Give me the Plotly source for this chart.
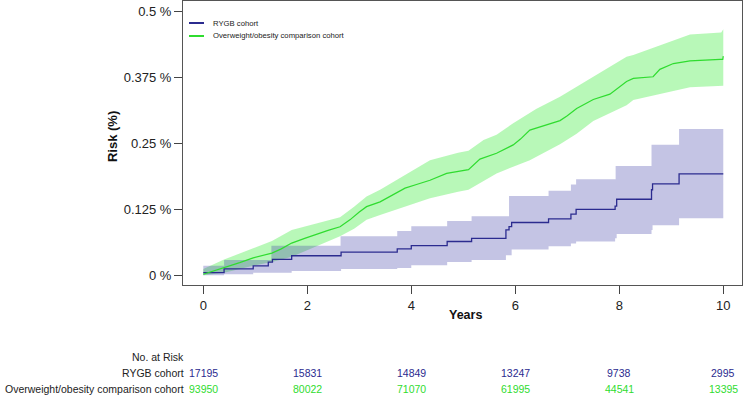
import plotly.graph_objects as go

# ---------------- data ----------------
rygb_t = [0, 0.40, 0.96, 1.25, 1.33, 1.70, 2.65, 3.73, 4.00, 4.69, 5.16, 5.82, 5.88, 5.93,
          6.64, 7.07, 7.17, 7.92, 7.95, 8.62, 8.64, 9.15, 10.00]
rygb_risk = [0.005, 0.012, 0.018, 0.025, 0.030, 0.037, 0.044, 0.050, 0.056, 0.064, 0.070, 0.086,
             0.092, 0.100, 0.107, 0.116, 0.125, 0.131, 0.144, 0.162, 0.173, 0.192, 0.192]

rygb_up_t = [0, 0.40, 1.31, 2.64, 3.73, 4.00, 4.69, 5.16, 5.88, 6.64, 7.07, 7.17, 7.93, 8.62, 9.15, 10.00]
rygb_up = [0.018, 0.029, 0.056, 0.074, 0.084, 0.093, 0.103, 0.112, 0.150, 0.160, 0.172, 0.182,
           0.207, 0.247, 0.277, 0.277]

rygb_lo_t = [0, 0.40, 0.96, 1.70, 2.65, 3.73, 4.00, 4.69, 5.16, 5.82, 5.93, 6.64, 7.07, 7.17,
             7.92, 7.95, 8.62, 8.64, 9.15, 10.00]
rygb_lo = [0.000, 0.002, 0.005, 0.008, 0.012, 0.014, 0.019, 0.025, 0.029, 0.038, 0.049, 0.055,
           0.060, 0.064, 0.070, 0.078, 0.086, 0.095, 0.108, 0.108]

ow_t = [0.00, 0.20, 0.40, 0.70, 0.96, 1.15, 1.32, 1.50, 1.70, 1.95, 2.18, 2.40, 2.63, 2.82, 3.00,
        3.14, 3.40, 3.65, 3.88, 4.10, 4.36, 4.68, 4.90, 5.10, 5.32, 5.64, 5.96, 6.10, 6.28, 6.55,
        6.86, 7.00, 7.18, 7.50, 7.82, 8.14, 8.27, 8.65, 8.78, 9.04, 9.36, 9.94, 9.99, 10.00]
ow_risk = [0.002, 0.008, 0.015, 0.024, 0.033, 0.038, 0.042, 0.050, 0.061, 0.070, 0.078, 0.085,
           0.092, 0.105, 0.120, 0.130, 0.139, 0.152, 0.165, 0.172, 0.180, 0.193, 0.197, 0.200,
           0.220, 0.231, 0.247, 0.258, 0.275, 0.284, 0.293, 0.302, 0.316, 0.333, 0.343, 0.367,
           0.373, 0.376, 0.390, 0.401, 0.406, 0.409, 0.409, 0.415]

ow_up_t = [0.00, 0.40, 0.96, 1.32, 1.70, 2.18, 2.63, 2.90, 3.14, 3.40, 3.88, 4.36, 4.90, 5.10,
           5.39, 5.64, 5.96, 6.40, 6.86, 7.50, 8.14, 8.27, 8.71, 9.36, 9.96, 10.00]
ow_up = [0.012, 0.030, 0.051, 0.065, 0.086, 0.098, 0.110, 0.130, 0.149, 0.162, 0.190, 0.218,
         0.232, 0.236, 0.256, 0.266, 0.288, 0.315, 0.338, 0.376, 0.414, 0.417, 0.433, 0.456,
         0.460, 0.466]

ow_lo_t = [0.00, 0.40, 0.96, 1.32, 1.70, 2.18, 2.63, 2.90, 3.14, 3.40, 3.88, 4.36, 4.90, 5.10,
           5.64, 6.28, 6.86, 7.18, 7.50, 8.14, 8.27, 8.71, 9.36, 10.00]
ow_lo = [0.000, 0.005, 0.018, 0.025, 0.035, 0.055, 0.074, 0.088, 0.105, 0.114, 0.130, 0.146,
         0.158, 0.162, 0.193, 0.218, 0.248, 0.268, 0.292, 0.322, 0.332, 0.342, 0.356, 0.359]

y_tick_vals = [0, 0.125, 0.25, 0.375, 0.5]
y_tick_text = ["0 %", "0.125 %", "0.25 %", "0.375 %", "0.5 %"]
x_tick_vals = [0, 2, 4, 6, 8, 10]

risk_times = [0, 2, 4, 6, 8, 10]
rygb_at_risk = [17195, 15831, 14849, 13247, 9738, 2995]
ow_at_risk = [93950, 80022, 71070, 61995, 44541, 13395]

series_names = ["RYGB cohort", "Overweight/obesity comparison cohort"]

# ---------------- style ----------------
BLUE = "#2b2b8f"
GREEN = "#2fdc2f"
BLUE_FILL = "rgba(60,60,165,0.30)"
GREEN_FILL = "rgba(40,235,40,0.33)"
FONT = "Arial, Liberation Sans, sans-serif"

fig = go.Figure()

def band(t_up, up, t_lo, lo, fill, shape):
    fig.add_trace(go.Scatter(x=t_up, y=up, mode="lines", line=dict(width=0, shape=shape),
                             showlegend=False, hoverinfo="skip"))
    fig.add_trace(go.Scatter(x=t_lo, y=lo, mode="lines", line=dict(width=0, shape=shape),
                             fill="tonexty", fillcolor=fill, showlegend=False, hoverinfo="skip"))

band(ow_up_t, ow_up, ow_lo_t, ow_lo, GREEN_FILL, "linear")
band(rygb_up_t, rygb_up, rygb_lo_t, rygb_lo, BLUE_FILL, "hv")

fig.add_trace(go.Scatter(x=rygb_t, y=rygb_risk, mode="lines", name=series_names[0],
                         line=dict(color=BLUE, width=1.3, shape="hv"), showlegend=False))
fig.add_trace(go.Scatter(x=ow_t, y=ow_risk, mode="lines", name=series_names[1],
                         line=dict(color=GREEN, width=1.2, shape="linear"), showlegend=False))

# manual legend
shapes = []
annotations = []
legend_rows = [(0.9225, BLUE, series_names[0]), (0.8768, GREEN, series_names[1])]
for yy, col, name in legend_rows:
    shapes.append(dict(type="line", xref="paper", yref="paper", x0=0.0107, x1=0.0376,
                       y0=yy, y1=yy, line=dict(color=col, width=2)))
    annotations.append(dict(xref="paper", yref="paper", x=0.050, y=yy, text=name,
                            showarrow=False, xanchor="left", yanchor="middle",
                            font=dict(size=7.7, color="#222", family=FONT)))

# axis titles
annotations.append(dict(xref="paper", yref="paper", x=-0.127, y=0.521, text="<b>Risk (%)</b>",
                        textangle=-90, showarrow=False, xanchor="center", yanchor="middle",
                        font=dict(size=13, color="#111", family=FONT)))
annotations.append(dict(xref="paper", yref="paper", x=0.505, y=-0.106, text="<b>Years</b>",
                        showarrow=False, xanchor="center", yanchor="middle",
                        font=dict(size=12.5, color="#111", family=FONT)))

# risk table
row_y = [-0.2535, -0.31, -0.366]
annotations.append(dict(xref="paper", yref="paper", x=0.0054, y=row_y[0], text="No. at Risk",
                        showarrow=False, xanchor="right", yanchor="middle",
                        font=dict(size=10.5, color="#222", family=FONT)))
for yy, name in zip(row_y[1:], series_names):
    annotations.append(dict(xref="paper", yref="paper", x=0.0054, y=yy, text=name,
                            showarrow=False, xanchor="right", yanchor="middle",
                            font=dict(size=10.5, color="#222", family=FONT)))
for t, n1, n2 in zip(risk_times, rygb_at_risk, ow_at_risk):
    annotations.append(dict(xref="x", yref="paper", x=t, y=row_y[1], text=str(n1),
                            showarrow=False, xanchor="center", yanchor="middle",
                            font=dict(size=10.5, color=BLUE, family=FONT)))
    annotations.append(dict(xref="x", yref="paper", x=t, y=row_y[2], text=str(n2),
                            showarrow=False, xanchor="center", yanchor="middle",
                            font=dict(size=10.5, color=GREEN, family=FONT)))

fig.update_layout(
    width=744, height=395,
    margin=dict(l=183, r=2, t=1, b=110),
    plot_bgcolor="white", paper_bgcolor="white",
    font=dict(family=FONT, size=13, color="#222"),
    shapes=shapes, annotations=annotations,
    showlegend=False,
)
fig.update_xaxes(range=[-0.39, 10.36], tickvals=x_tick_vals, ticks="outside", ticklen=8,
                 tickcolor="#444", showline=True, linecolor="#555", linewidth=1, mirror=True,
                 showgrid=False, zeroline=False, tickfont=dict(size=13, color="#222"))
fig.update_yaxes(range=[-0.0184, 0.5195], tickvals=y_tick_vals, ticktext=y_tick_text,
                 ticks="outside", ticklen=8, tickcolor="#444", showline=True, linecolor="#555",
                 linewidth=1, mirror=True, showgrid=False, zeroline=False,
                 tickfont=dict(size=13, color="#222"))

fig.write_html("out.html", config={"displayModeBar": False},
               post_script="document.body.style.margin='0';document.body.style.overflow='hidden';")
